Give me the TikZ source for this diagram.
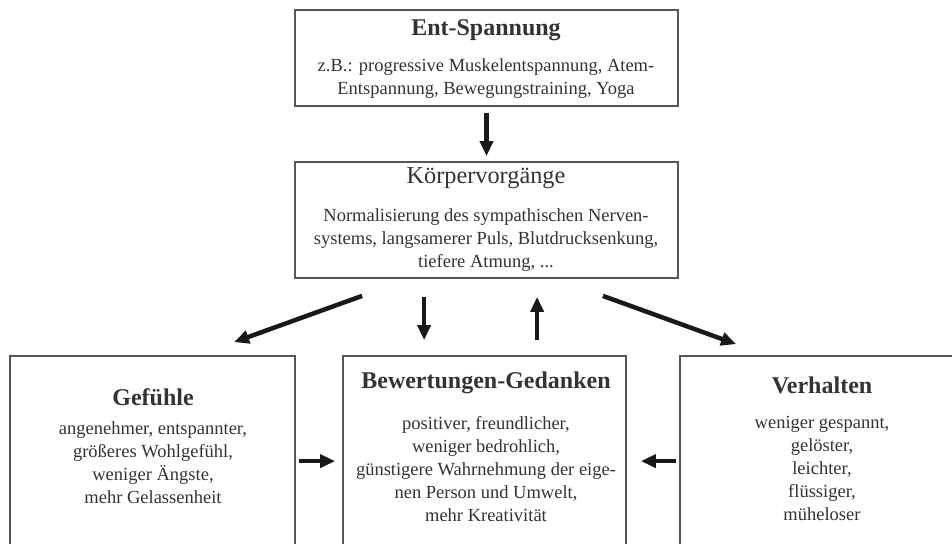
\documentclass[tikz,border=0pt]{standalone}
\usepackage{fontspec}
\setmainfont{Liberation Serif}
\usetikzlibrary{arrows.meta}
\definecolor{txtc}{HTML}{333333}
\definecolor{linec}{HTML}{555555}
\tikzset{
  box/.style={draw=linec, line width=1.8pt, rectangle, inner sep=0pt},
  ttl/.style={text=txtc, font=\fontsize{24}{28}\selectfont\bfseries, inner sep=0pt},
  ttlr/.style={text=txtc, font=\fontsize{24.3}{28}\selectfont, inner sep=0pt},
  body/.style={text=txtc, font=\fontsize{18.5}{23}\selectfont, align=center, inner sep=0pt},
  arr/.style={draw=black!90, line width=4.5pt, -{Triangle[length=15pt,width=13pt]}}
}
\begin{document}
\begin{tikzpicture}[x=1pt,y=-1pt]
\useasboundingbox (0,0) rectangle (952,543);
\clip (0,0) rectangle (952,543);
\fill[white] (0,0) rectangle (952,543);
% boxes
\node[box, minimum width=383pt, minimum height=96pt] (ent) at (486.5,58) {};
\node[box, minimum width=383pt, minimum height=116pt] (koerper) at (486.5,220) {};
\node[box, minimum width=285pt, minimum height=264pt] (gef) at (152.5,488) {};
\node[box, minimum width=283pt, minimum height=264pt] (bew) at (484.5,488) {};
\node[box, minimum width=284pt, minimum height=264pt] (verh) at (822,488) {};
% texts
\node[ttl] (entT) at (486,30) {Ent-Spannung};
\node[body] (entB) at (486,79) {z.B.: progressive Muskelentspannung, Atem-\\Entspannung, Bewegungstraining, Yoga};
\node[ttlr] (koerperT) at (486,178) {Körpervorgänge};
\node[body] (koerperB) at (486,240) {Normalisierung des sympathischen Nerven-\\systems, langsamerer Puls, Blutdrucksenkung,\\tiefere Atmung, ...};
\node[ttl] (gefT) at (153,397) {Gefühle};
\node[body] (gefB) at (153,462.5) {angenehmer, entspannter,\\größeres Wohlgefühl,\\weniger Ängste,\\mehr Gelassenheit};
\node[ttl] (bewT) at (486,383) {Bewertungen-Gedanken};
\node[body] (bewB) at (486,469.5) {positiver, freundlicher,\\weniger bedrohlich,\\günstigere Wahrnehmung der eige-\\nen Person und Umwelt,\\mehr Kreativität};
\node[ttl] (verhT) at (822,385) {Verhalten};
\node[body] (verhB) at (822,468.5) {weniger gespannt,\\gelöster,\\leichter,\\flüssiger,\\müheloser};
% arrows
\draw[arr, shorten <=6pt, shorten >=5pt] (ent) -- (koerper);
\draw[arr] ([xshift=68pt,yshift=-17pt]koerper.south west) -- ([xshift=225pt,yshift=13pt]gef.north west);
\draw[arr] ([xshift=130pt,yshift=-18pt]koerper.south west) -- ([xshift=82pt,yshift=15pt]bew.north west);
\draw[arr] ([xshift=195pt,yshift=15pt]bew.north west) -- ([xshift=243pt,yshift=-18pt]koerper.south west);
\draw[arr] ([xshift=-76pt,yshift=-17pt]koerper.south east) -- ([xshift=57pt,yshift=11pt]verh.north west);
\draw[arr] ([xshift=3pt,yshift=-106pt]gef.north east) -- ([xshift=-7pt,yshift=-106pt]bew.north west);
\draw[arr] ([xshift=-3pt,yshift=-106pt]verh.north west) -- ([xshift=14pt,yshift=-106pt]bew.north east);
\end{tikzpicture}
\end{document}
